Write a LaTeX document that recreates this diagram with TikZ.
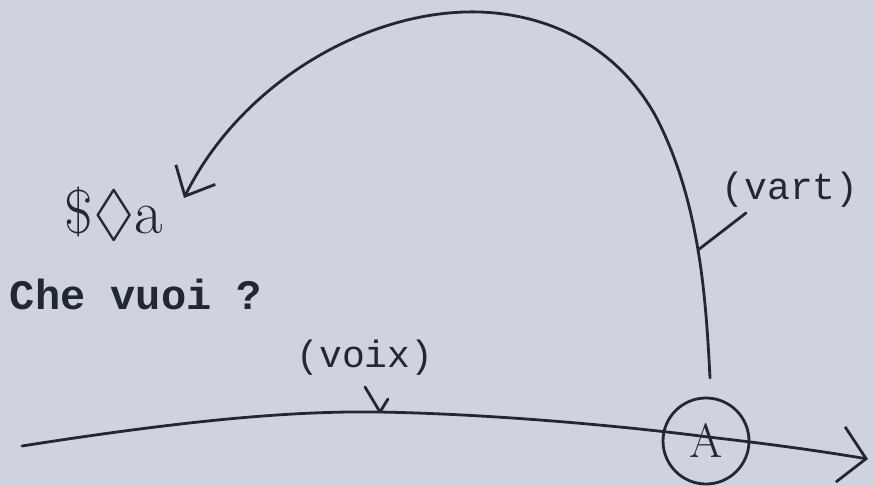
\documentclass[tikz,border=0pt]{standalone}
\usepackage{fontspec}
\usepackage{amssymb}
\setmonofont{Liberation Mono}
\usetikzlibrary{arrows.meta}
\definecolor{paper}{RGB}{206,211,221}
\definecolor{ink}{RGB}{34,40,50}
\tikzset{
  pen/.style={draw=ink, line width=2.8pt, line cap=round, line join=round},
  typed/.style={text=ink, font=\ttfamily\fontsize{38}{40}\selectfont, inner sep=0pt},
  hand/.style={text=ink, font=\fontsize{62}{64}\selectfont, inner sep=0pt},
}
\begin{document}
\begin{tikzpicture}[x=1pt,y=-1pt]
\fill[paper] (0,0) rectangle (874,486);
\useasboundingbox (0,0) rectangle (874,486);

% nodes
\node[pen, circle, minimum size=86pt, inner sep=0pt, text=ink, font=\fontsize{48}{50}\selectfont] (A) at (706,441) {A};
\node[hand] (fant) at (114,214) {\$$\lozenge$a};
\node[typed, font=\ttfamily\bfseries\fontsize{42}{44}\selectfont] (che) at (136,294) {Che vuoi ?};
\node[typed] (voix) at (365,358) {(voix)};
\node[typed] (vart) at (790,190) {(vart)};

% coordinates
\coordinate (lstart) at (22,446);
\coordinate (lend) at (868,459);
\coordinate (arcstart) at (710,378);
\coordinate (arcend) at (184,198);
\coordinate (vtick) at (746,213);
\coordinate (vhit) at (698,250);
\coordinate (ptick) at (365,387);
\coordinate (phit) at (380,412);
\coordinate (parm) at (388,399);

% bottom line with open arrow
\draw[pen, -{Straight Barb[length=26pt,width=56pt,line width=2.8pt]}]
  (lstart) .. controls (200,418) and (300,411) .. (378,412)
  .. controls (500,414) and (640,428) .. (708,437)
  .. controls (770,444) and (820,451) .. (lend);

% big arc
\draw[pen, -{Straight Barb[length=24pt,width=44pt,line width=2.8pt]}]
  (arcstart) .. controls (706,300) and (700,200) .. (655,115)
  .. controls (610,35) and (530,10) .. (465,12)
  .. controls (360,15) and (240,85) .. (arcend);

% ticks
\draw[pen] (vtick) -- (vhit);
\draw[pen] (ptick) -- (phit) -- (parm);
\end{tikzpicture}
\end{document}
